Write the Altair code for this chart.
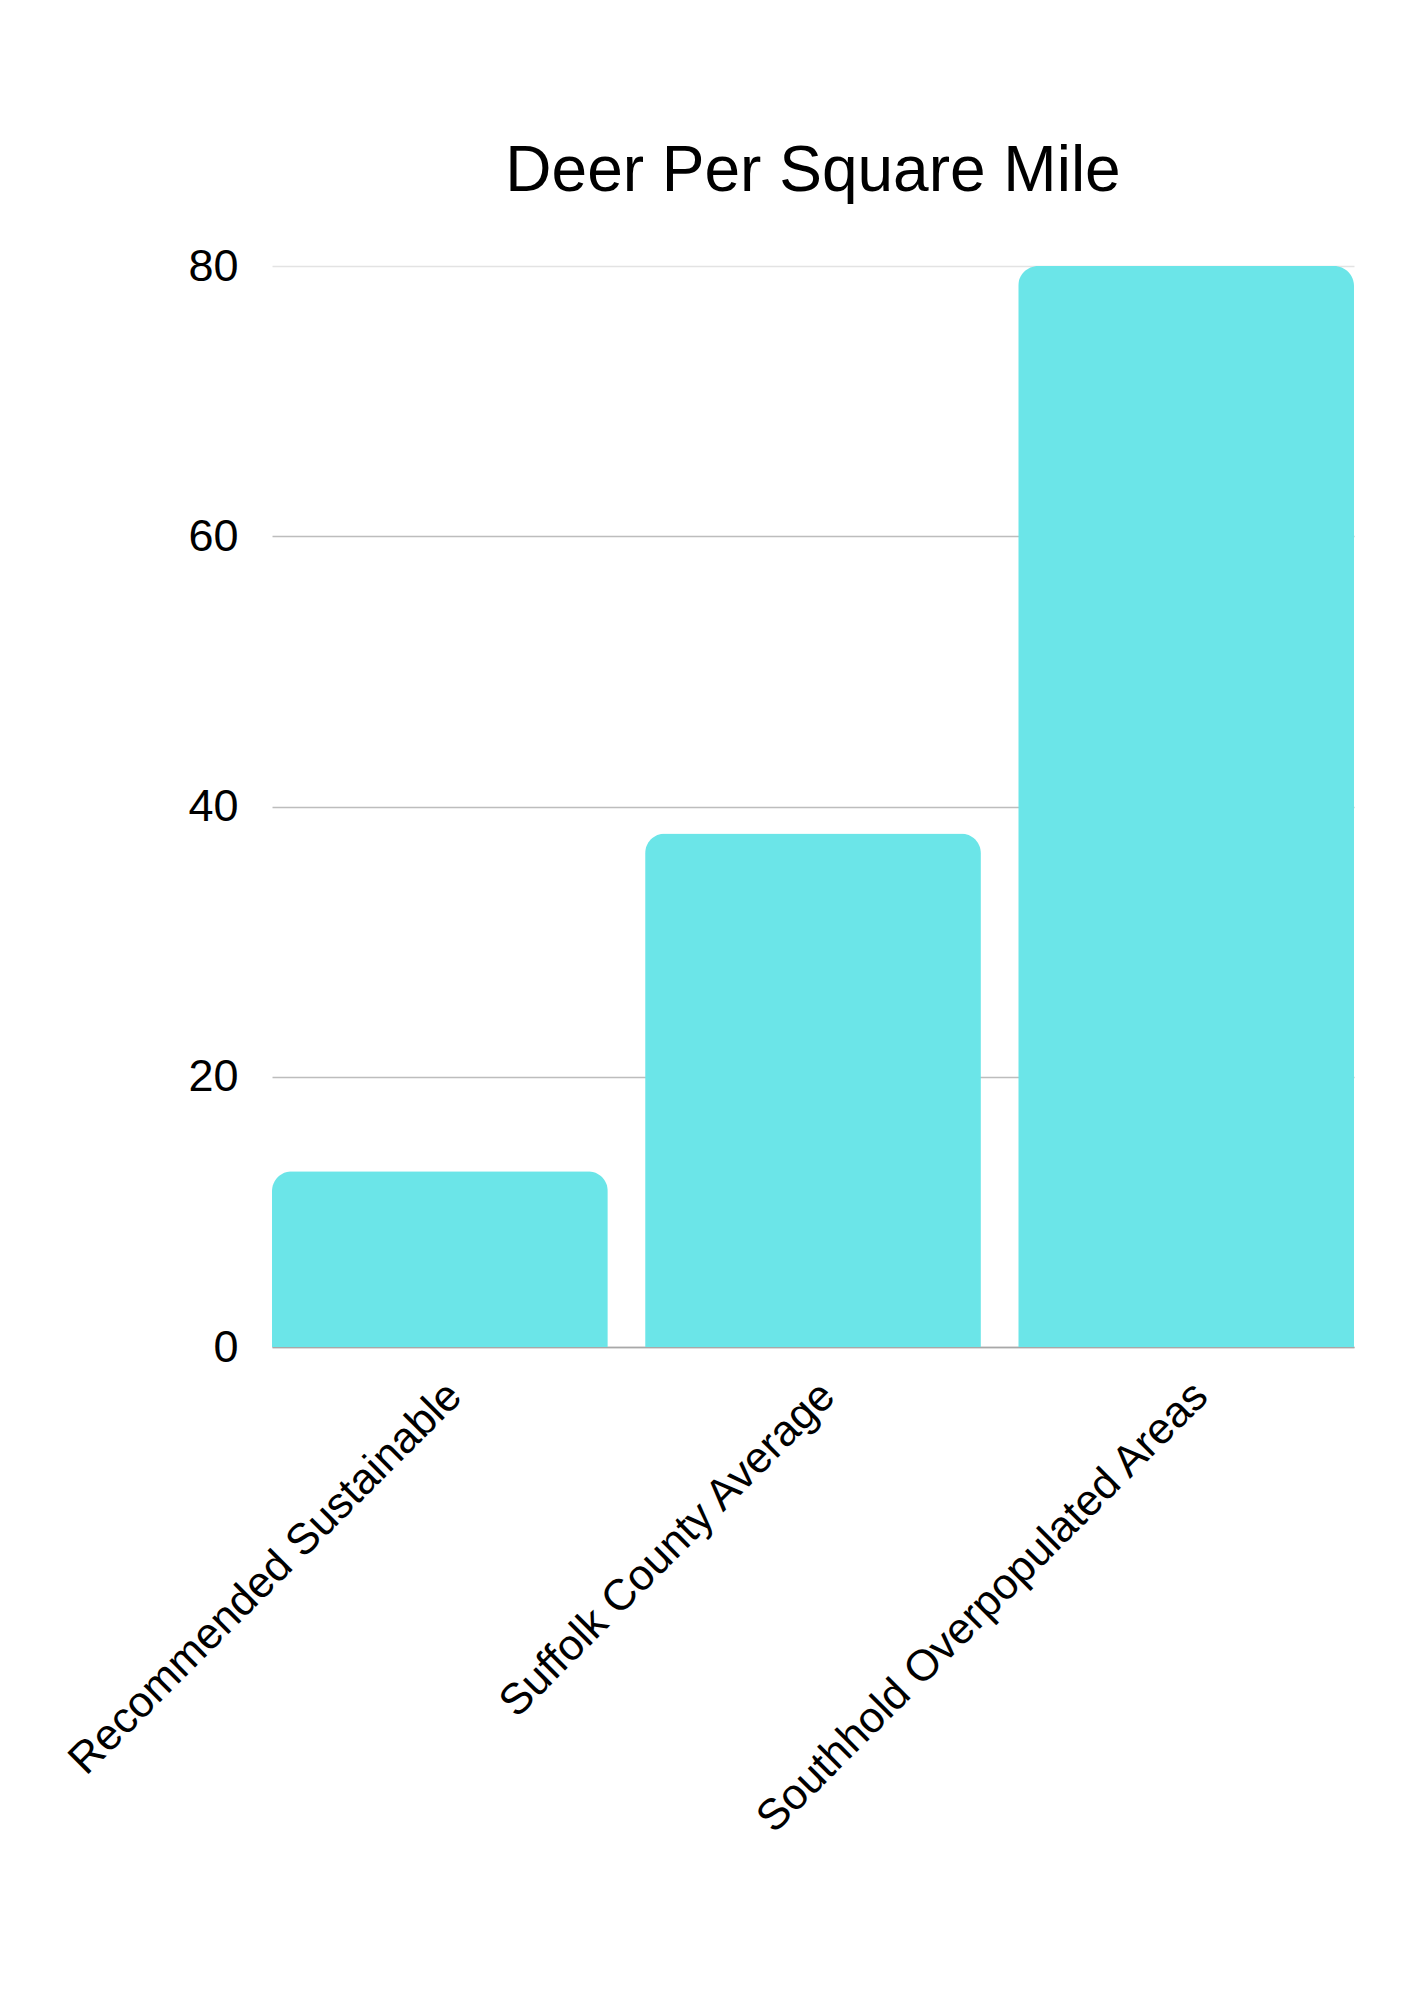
import altair as alt
import pandas as pd

categories = ["Recommended Sustainable", "Suffolk County Average", "Southhold Overpopulated Areas"]
values = [13, 38, 80]
y_ticks = [0, 20, 40, 60, 80]

df = pd.DataFrame({"category": categories, "value": values})

FONT = "Liberation Sans"

chart = (
    alt.Chart(df)
    .mark_bar(color="#6BE5E8", cornerRadiusTopLeft=20, cornerRadiusTopRight=20)
    .encode(
        x=alt.X(
            "category:N",
            sort=categories,
            title=None,
            scale=alt.Scale(paddingInner=0.1, paddingOuter=0),
            axis=alt.Axis(
                labelAngle=-45,
                labelAlign="right",
                labelBaseline="top",
                labelFont=FONT,
                labelFontSize=43.5,
                labelColor="#000000",
                labelPadding=27,
                ticks=False,
                domain=True,
                domainColor="#a8a8a8",
                domainWidth=1.5,
                grid=False,
                labelLimit=1000,
            ),
        ),
        y=alt.Y(
            "value:Q",
            title=None,
            scale=alt.Scale(domain=[0, 80], nice=False),
            axis=alt.Axis(
                values=y_ticks,
                labelFont=FONT,
                labelFontSize=45,
                labelColor="#000000",
                labelPadding=34,
                ticks=False,
                domain=False,
                grid=True,
                gridColor={"condition": {"test": "datum.value === 80", "value": "#e3e3e3"}, "value": "#bdbdbd"},
                gridWidth=1.5,
            ),
        ),
    )
    .properties(
        width=1082,
        height=1081,
        background="#ffffff",
        title=alt.TitleParams(
            "Deer Per Square Mile",
            font=FONT,
            fontSize=64,
            fontWeight="normal",
            color="#000000",
            anchor="middle",
            frame="group",
            baseline="alphabetic",
            offset=-11,
        ),
        autosize=alt.AutoSizeParams(type="none"),
        padding={"left": 264, "top": 258, "right": 52, "bottom": 600},
    )
    .configure_view(strokeWidth=0, stroke="transparent")
)

chart.save("out.html", embed_options={"renderer": "svg", "actions": False})
